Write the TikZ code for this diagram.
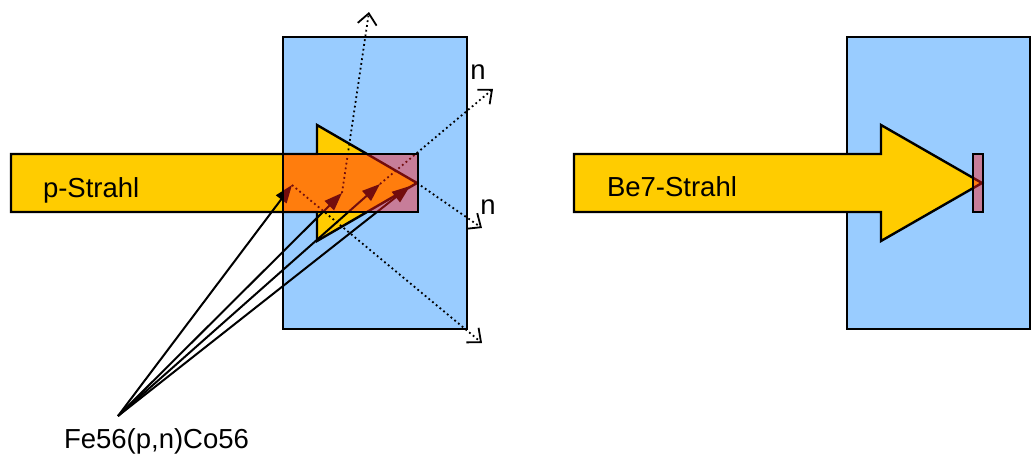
\documentclass[tikz,border=0pt]{standalone}
\usepackage{fontspec}
\setsansfont{Liberation Sans}
\usetikzlibrary{arrows.meta}
\definecolor{chamberblue}{RGB}{153,204,255}
\definecolor{beamyellow}{RGB}{255,204,0}
\definecolor{foilred}{RGB}{255,30,30}
\tikzset{
  chamber/.style={fill=chamberblue,draw=black,line width=2.4pt},
  beam/.style={fill=beamyellow,draw=black,line width=2.4pt},
  foil/.style={fill=foilred,fill opacity=0.45,draw=black,line width=2.4pt},
  reaction/.style={draw=black,line width=2pt,-{Triangle[length=18pt,width=13pt]}},
  neutron/.style={draw=black,line width=1.8pt,dash pattern=on 1.8pt off 3pt,-{Straight Barb[length=11pt,width=19pt,line width=1.8pt]}},
  lbl/.style={inner sep=0pt,outer sep=0pt,anchor=base west,font=\sffamily\fontsize{27.5}{33}\selectfont}
}
\begin{document}
\begin{tikzpicture}[x=1pt,y=-1pt]
\path[use as bounding box] (0,0) rectangle (1032,455);
% left: p beam on thick target
\path[chamber] (283,37) rectangle (467,329);
\path[beam] (11,154) -- (317,154) -- (317,125) -- (417,183) -- (317,241) -- (317,212) -- (11,212) -- cycle;
\node[lbl] (pbeam) at (43,197) {p-Strahl};
\coordinate (src) at (118,416);
\coordinate (r1) at (292,185);
\coordinate (r2) at (342,193);
\coordinate (r3) at (380,184);
\coordinate (r4) at (410,186);
\coordinate (tip) at (417,183);
\coordinate (n1) at (369,12);
\coordinate (n2) at (493,89);
\coordinate (n3) at (482,228);
\coordinate (n4) at (482,343);
\draw[reaction] (src) -- (r1);
\draw[reaction] (src) -- (r2);
\draw[reaction] (src) -- (r3);
\draw[reaction] (src) -- (r4);
\draw[neutron] (r2) -- (n1);
\draw[neutron] (r3) -- (n2);
\draw[neutron] (tip) -- (n3);
\draw[neutron] (r1) -- (n4);
\path[foil] (283,154) rectangle (418,212);
\node[lbl,anchor=center] (nup) at (478,72) {n};
\node[lbl,anchor=center] (nmid) at (488,207) {n};
\node[lbl] (reac) at (64,448) {Fe56(p,n)Co56};
% right: Be7 beam on thin target
\path[chamber] (847,37) rectangle (1030,329);
\path[beam] (574,154) -- (881,154) -- (881,125) -- (982,183) -- (881,241) -- (881,212) -- (574,212) -- cycle;
\path[foil] (973,154) rectangle (983,212);
\node[lbl] (bebeam) at (607,196) {Be7-Strahl};
\end{tikzpicture}
\end{document}
